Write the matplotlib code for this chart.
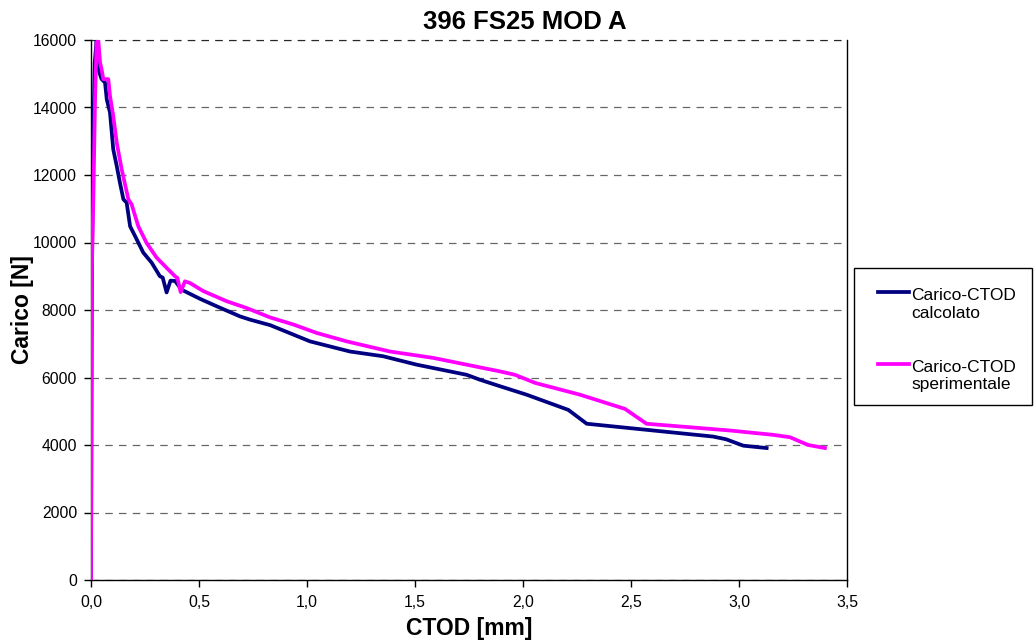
import matplotlib
matplotlib.use("Agg")
import matplotlib.pyplot as plt
from matplotlib.lines import Line2D
from matplotlib.patches import Rectangle
from matplotlib.ticker import FuncFormatter, MultipleLocator

plt.rcParams['font.family'] = ['Liberation Sans', 'DejaVu Sans']

title = "396 FS25 MOD A"
x_label = "CTOD [mm]"
y_label = "Carico [N]"
labels = ["Carico-CTOD\ncalcolato", "Carico-CTOD\nsperimentale"]
colors = ['#000080', '#FF00FF']

# Carico-CTOD calcolato
ctod_calc = [0.0, 0.004, 0.010, 0.017, 0.026, 0.034, 0.049, 0.065, 0.073, 0.088,
             0.103, 0.119, 0.134, 0.150, 0.165, 0.181, 0.204, 0.242, 0.281, 0.319,
             0.332, 0.350, 0.368, 0.389, 0.420, 0.505, 0.582, 0.690, 0.736, 0.830,
             1.014, 1.199, 1.352, 1.508, 1.739, 1.800, 1.894, 2.017, 2.210, 2.295,
             2.572, 2.880, 2.940, 3.020, 3.128]
carico_calc = [0, 9000, 13000, 15300, 16000, 15130, 14840, 14740, 14240, 13850,
               12760, 12270, 11770, 11280, 11180, 10480, 10190, 9700, 9400, 9000,
               8960, 8520, 8870, 8860, 8600, 8330, 8110, 7810, 7715, 7550,
               7070, 6770, 6630, 6380, 6080, 5935, 5740, 5490, 5040, 4630,
               4450, 4250, 4170, 3980, 3910]

# Carico-CTOD sperimentale
ctod_sper = [0.0, 0.003, 0.011, 0.019, 0.026, 0.034, 0.042, 0.049, 0.057, 0.080,
             0.088, 0.103, 0.119, 0.142, 0.173, 0.188, 0.219, 0.257, 0.304, 0.350,
             0.389, 0.400, 0.415, 0.435, 0.458, 0.520, 0.628, 0.720, 0.829, 0.937,
             1.045, 1.184, 1.384, 1.585, 1.739, 1.894, 1.963, 2.056, 2.264, 2.472,
             2.572, 2.958, 3.159, 3.236, 3.320, 3.398]
carico_sper = [0, 8900, 11370, 14340, 15930, 15980, 15330, 15130, 14840, 14840,
               14340, 13750, 12960, 12170, 11280, 11130, 10480, 9990, 9550, 9250,
               9000, 8950, 8530, 8850, 8800, 8560, 8260, 8060, 7780, 7570,
               7320, 7070, 6770, 6580, 6380, 6180, 6080, 5840, 5490, 5070,
               4630, 4430, 4300, 4230, 4000, 3910]

W, H = 1036, 641
fig = plt.figure(figsize=(W / 100, H / 100), dpi=100)
ax = fig.add_axes([91 / W, 1 - 580 / H, (847 - 91) / W, (580 - 40) / H])

ax.plot(ctod_calc, carico_calc, color=colors[0], lw=2.7,
        solid_joinstyle='round', zorder=3)
ax.plot(ctod_sper, carico_sper, color=colors[1], lw=2.7,
        solid_joinstyle='round', zorder=3)

ax.set_xlim(0, 3.5)
ax.set_ylim(0, 16000)
ax.xaxis.set_major_locator(MultipleLocator(0.5))
ax.yaxis.set_major_locator(MultipleLocator(2000))
ax.xaxis.set_major_formatter(FuncFormatter(lambda v, p: f"{v:.1f}".replace('.', ',')))
ax.yaxis.set_major_formatter(FuncFormatter(lambda v, p: f"{int(v)}"))

ax.yaxis.grid(True, linestyle=(0, (6, 5)), color='#000000', lw=0.9, alpha=0.6)
ax.set_axisbelow(True)
ax.spines['top'].set_visible(False)
ax.axhline(16000, linestyle=(0, (6, 5)), color='#000000', lw=0.9, alpha=0.6, clip_on=False)
for s in ('left', 'bottom', 'right'):
    ax.spines[s].set_color('black')
    ax.spines[s].set_linewidth(1.0)

ax.tick_params(axis='both', direction='out', length=5, width=1, labelsize=11.3, colors='black')
ax.tick_params(axis='x', pad=6)
ax.tick_params(axis='y', pad=5)

fig.text(469 / W, 1 - 628 / H, x_label, ha='center', va='center',
         fontsize=16.5, fontweight='bold')
fig.text(23 / W, 1 - 310 / H, y_label, ha='center', va='center', rotation=90,
         fontsize=16.5, fontweight='bold')
fig.text(525 / W, 1 - 22 / H, title, ha='center', va='center',
         fontsize=18.5, fontweight='bold')

# legend box drawn in pixel-based figure coordinates
def fx(px):
    return px / W

def fy(py):
    return 1 - py / H

fig.add_artist(Rectangle((fx(854), fy(405)), fx(1032) - fx(854), fy(268) - fy(405),
                         transform=fig.transFigure, facecolor='white',
                         edgecolor='black', lw=1.0))
entry_y = [292, 364]
for y0, lab, col in zip(entry_y, labels, colors):
    fig.add_artist(Line2D([fx(878), fx(909)], [fy(y0), fy(y0)],
                          transform=fig.transFigure, color=col, lw=2.7))
    first, second = lab.split('\n')
    fig.text(fx(911), fy(y0 + 3), first, ha='left', va='center', fontsize=12.5)
    fig.text(fx(911), fy(y0 + 21), second, ha='left', va='center', fontsize=12.5)

fig.savefig('out.png', dpi=100)
